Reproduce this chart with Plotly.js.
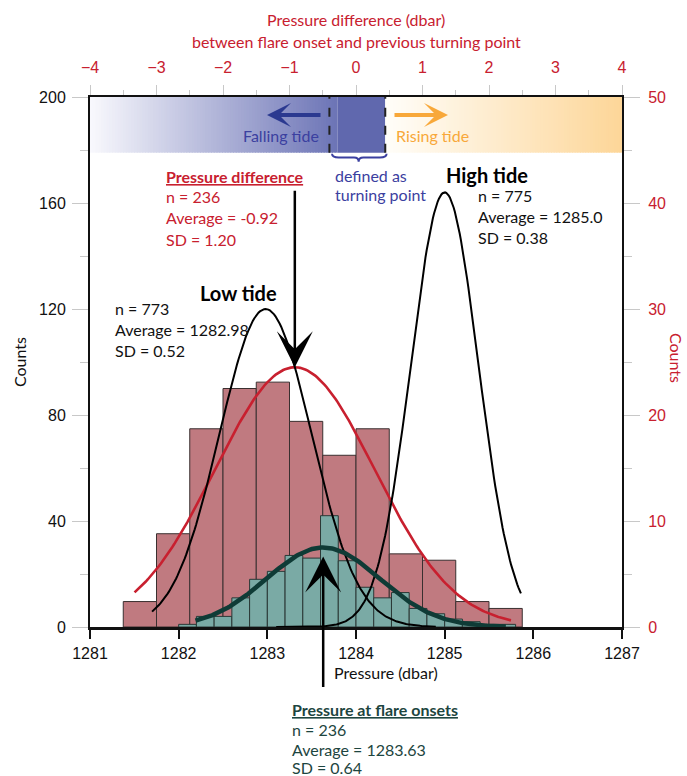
<!DOCTYPE html>
<html>
<head>
<meta charset="utf-8">
<script src="https://cdn.plot.ly/plotly-3.0.1.min.js"></script>
<style>
  html, body { margin: 0; padding: 0; background: #fff; }
  #chart { width: 687px; height: 776px; }
</style>
</head>
<body>
<div id="chart"></div>
<script>
// ---- Pressure difference between flare onset and previous turning point (0.5 dbar bins) ----
const diffBinCenters = [-3.25, -2.75, -2.25, -1.75, -1.25, -0.75, -0.25, 0.25, 0.75, 1.25, 1.75, 2.25];
const diffCounts     = [2.4, 8.8, 18.7, 22.5, 23.1, 19.4, 16.2, 18.7, 6.9, 6.3, 2.4, 1.75];

// ---- Pressure at flare onsets (0.2 dbar bins) ----
const onsetBinCenters = [1282.1, 1282.3, 1282.5, 1282.7, 1282.9, 1283.1, 1283.3, 1283.5, 1283.7, 1283.9,
                         1284.1, 1284.3, 1284.5, 1284.7, 1284.9, 1285.1, 1285.3, 1285.5, 1285.7];
const onsetCounts     = [1, 4, 4, 11, 18, 21, 27, 26, 42, 25, 15, 11, 13, 7, 5, 3, 2, 1, 1];

// ---- Normal fits: stated mean and SD, peak height, drawn extent ----
const diffFit  = { mean: -0.92,   sd: 1.20, peak: 24.5, from: -3.33,   to: 2.33 };
const lowTide  = { mean: 1282.98, sd: 0.52, peak: 120,  from: 1281.70, to: 1284.90 };
const highTide = { mean: 1285.0,  sd: 0.38, peak: 164,  from: 1283.10, to: 1285.86 };
const onsetFit = { mean: 1283.63, sd: 0.64, peak: 30,   from: 1282.19, to: 1285.69 };

// ---- Tick values ----
const diffTicks     = [-4, -3, -2, -1, 0, 1, 2, 3, 4];
const pressureTicks = [1281, 1282, 1283, 1284, 1285, 1286, 1287];
const leftCountTicks  = [0, 40, 80, 120, 160, 200];
const rightCountTicks = [0, 10, 20, 30, 40, 50];

// ---- Styling ----
const RED = '#c8202f';
const BLUE_TXT = '#3b40a0';
const BLUE_ARROW = '#2b3990';
const ORANGE = '#f8a83a';
const TEAL_TXT = '#1d4540';
const TEXT_FONT = 'Lato, "Noto Sans", sans-serif';
const TICK_FONT = '"Liberation Sans", Arial, sans-serif';

const M = { l: 90, r: 65, t: 97, b: 149 };
const W = 687, H = 776;
const PW = W - M.l - M.r, PH = H - M.t - M.b;
const px = x => (x - M.l) / PW;
const py = y => (H - M.b - y) / PH;

function normalCurve(fit, n) {
  const xs = [], ys = [];
  for (let i = 0; i <= n; i++) {
    const x = fit.from + (fit.to - fit.from) * i / n;
    xs.push(x);
    ys.push(fit.peak * Math.exp(-0.5 * Math.pow((x - fit.mean) / fit.sd, 2)));
  }
  return { xs, ys };
}

const diffC = normalCurve(diffFit, 200);
const lowC = normalCurve(lowTide, 200);
const highC = normalCurve(highTide, 200);
const onsetC = normalCurve(onsetFit, 200);

const traces = [
  // red histogram: top axis (x) and right axis (y)
  { type: 'bar', x: diffBinCenters, y: diffCounts, width: 0.5, xaxis: 'x', yaxis: 'y',
    marker: { color: '#c07a80', line: { color: '#3a3030', width: 1 } }, hoverinfo: 'skip' },
  { type: 'scatter', mode: 'lines', x: diffC.xs, y: diffC.ys, xaxis: 'x', yaxis: 'y',
    line: { color: RED, width: 2.6 }, hoverinfo: 'skip' },
  // onset histogram: bottom axis (x2) and left axis (y2)
  { type: 'bar', x: onsetBinCenters, y: onsetCounts, width: 0.2, xaxis: 'x2', yaxis: 'y2',
    marker: { color: '#7aaaa5', line: { color: '#2a3836', width: 1 } }, hoverinfo: 'skip' },
  { type: 'scatter', mode: 'lines', x: lowC.xs, y: lowC.ys, xaxis: 'x2', yaxis: 'y2',
    line: { color: '#000', width: 2 }, hoverinfo: 'skip' },
  { type: 'scatter', mode: 'lines', x: highC.xs, y: highC.ys, xaxis: 'x2', yaxis: 'y2',
    line: { color: '#000', width: 2 }, hoverinfo: 'skip' },
  { type: 'scatter', mode: 'lines', x: onsetC.xs, y: onsetC.ys, xaxis: 'x2', yaxis: 'y2',
    line: { color: '#0f3b36', width: 4.5 }, hoverinfo: 'skip' }
];

// ---- tide band along the top of the plot ----
const BAND_Y0 = 179, BAND_Y1 = 200;
function gradientStrips(x0, x1, c0, c1, n) {
  const out = [];
  const step = (x1 - x0) / n;
  for (let i = 0; i < n; i++) {
    const t = (i + 0.5) / n;
    const c = c0.map((v, k) => Math.round(v + (c1[k] - v) * t));
    out.push({
      type: 'rect', xref: 'x', yref: 'y2', layer: 'below',
      x0: x0 + step * i, x1: x0 + step * (i + 1) + (i < n - 1 ? step * 0.4 : 0),
      y0: BAND_Y0, y1: BAND_Y1,
      fillcolor: `rgb(${c[0]},${c[1]},${c[2]})`, line: { width: 0 }
    });
  }
  return out;
}
const shapes = [].concat(
  gradientStrips(-4, -0.28, [249, 249, 253], [108, 116, 182], 90),
  [{ type: 'rect', xref: 'x', yref: 'y2', layer: 'below', x0: -0.28, x1: 0.44, y0: BAND_Y0, y1: BAND_Y1,
     fillcolor: '#6068ae', line: { width: 0 } }],
  gradientStrips(0.44, 4, [255, 254, 250], [253, 214, 152], 90),
  [
    { type: 'line', xref: 'x', yref: 'y2', x0: -0.4, x1: -0.4, y0: BAND_Y0, y1: BAND_Y1,
      line: { color: '#222', width: 2, dash: 'dash' } },
    { type: 'line', xref: 'x', yref: 'y2', x0: 0.44, x1: 0.44, y0: BAND_Y0, y1: BAND_Y1,
      line: { color: '#222', width: 2, dash: 'dash' } },
    // curly brace under the turning-point window
    { type: 'path', xref: 'x', yref: 'y2',
      path: 'M -0.36,178.6 Q -0.36,177.2 -0.26,177.2 L -0.03,177.2 Q 0.04,177.2 0.04,175.6 ' +
            'Q 0.04,177.2 0.11,177.2 L 0.36,177.2 Q 0.46,177.2 0.46,178.6',
      line: { color: BLUE_TXT, width: 2 } }
  ]
);

function label(text, x, y, color, size, extra) {
  return Object.assign({
    xref: 'paper', yref: 'paper', x: px(x), y: py(y), xanchor: 'left', yanchor: 'middle',
    text: text, showarrow: false, align: 'left',
    font: { family: TEXT_FONT, size: size || 16, color: color || '#111' }
  }, extra || {});
}

const annotations = [
  // top axis title, two lines
  label('Pressure difference (dbar)', 356, 20, RED, 16, { xanchor: 'center' }),
  label('between flare onset and previous turning point', 356, 42, RED, 16, { xanchor: 'center' }),

  // top band labels and arrows
  label('Falling tide', 321, 135, BLUE_TXT, 16, { xanchor: 'right' }),
  label('Rising tide', 394, 135, ORANGE, 16),
  { xref: 'paper', yref: 'paper', x: px(267), y: py(115), ax: 55, ay: 0, text: '', showarrow: true,
    arrowhead: 3, arrowsize: 1.0, arrowwidth: 4, arrowcolor: BLUE_ARROW },
  { xref: 'paper', yref: 'paper', x: px(448), y: py(115), ax: -55, ay: 0, text: '', showarrow: true,
    arrowhead: 3, arrowsize: 1.0, arrowwidth: 4, arrowcolor: ORANGE },
  label('defined as', 333, 175, BLUE_TXT),
  label('turning point', 333, 195, BLUE_TXT),

  // pressure difference stats
  label('<b><u>Pressure difference</u></b>', 164, 176, RED),
  label('n = 236', 164, 197, RED),
  label('Average = -0.92', 164, 218, RED),
  label('SD = 1.20', 164, 239, RED),

  // tide stats
  label('<b>High tide</b>', 444, 175, '#000', 20),
  label('n = 775', 476, 196, '#111'),
  label('Average = 1285.0', 476, 217, '#111'),
  label('SD = 0.38', 476, 237, '#111'),
  label('<b>Low tide</b>', 198, 293, '#000', 20),
  label('n = 773', 113, 308, '#111'),
  label('Average = 1282.98', 113, 329, '#111'),
  label('SD = 0.52', 113, 350, '#111'),

  // arrow from the stats down to the peak of the pressure-difference fit
  { xref: 'x', yref: 'y', x: diffFit.mean, y: diffFit.peak, ax: 0, ay: -178, text: '', showarrow: true,
    arrowhead: 3, arrowsize: 2.4, arrowwidth: 2.5, arrowcolor: '#000' },
  // arrow from below the axis up to the onset fit
  { xref: 'x2', yref: 'y2', x: onsetFit.mean, y: 26.6, ax: 0, ay: 132, text: '', showarrow: true,
    arrowhead: 3, arrowsize: 2.4, arrowwidth: 2.5, arrowcolor: '#000' },

  label('Pressure (dbar)', 332, 672, '#111'),

  // onset stats
  label('<b><u>Pressure at flare onsets</u></b>', 290, 709, TEAL_TXT),
  label('n = 236', 290, 729, TEAL_TXT),
  label('Average = 1283.63', 290, 749, TEAL_TXT),
  label('SD = 0.64', 290, 767, TEAL_TXT),

  // right axis title, reading downward
  label('Counts', 677, 358, RED, 16, { xanchor: 'center', textangle: 90 })
];

const grayTick = '#c8c8c8';
const layout = {
  width: W, height: H, margin: M,
  paper_bgcolor: '#fff', plot_bgcolor: 'rgba(0,0,0,0)',
  showlegend: false, hovermode: false, barmode: 'overlay', bargap: 0,
  xaxis: {
    range: [-4, 4], side: 'top', tickmode: 'array', tickvals: diffTicks,
    ticks: 'outside', ticklen: 10, tickwidth: 1, tickcolor: grayTick,
    minor: { dtick: 0.5, ticks: 'outside', ticklen: 5, tickcolor: grayTick },
    showline: true, linecolor: '#111', linewidth: 2,
    showgrid: false, zeroline: false, ticklabelstandoff: 6,
    tickfont: { family: TICK_FONT, size: 16, color: RED },
    fixedrange: true
  },
  xaxis2: {
    range: [1281, 1287], overlaying: 'x', side: 'bottom', tickmode: 'array', tickvals: pressureTicks,
    ticks: 'outside', ticklen: 9, tickwidth: 2, tickcolor: '#111',
    showline: true, linecolor: '#111', linewidth: 2.5,
    showgrid: false, zeroline: false, ticklabelstandoff: 1,
    tickfont: { family: TICK_FONT, size: 16, color: '#111' },
    fixedrange: true
  },
  yaxis: {
    range: [0, 50], side: 'right', tickmode: 'array', tickvals: rightCountTicks,
    ticks: 'outside', ticklen: 16, tickwidth: 1, tickcolor: grayTick,
    minor: { dtick: 5, ticks: 'outside', ticklen: 8, tickcolor: grayTick },
    showline: true, linecolor: '#111', linewidth: 2,
    showgrid: false, zeroline: false, ticklabelstandoff: 5,
    tickfont: { family: TICK_FONT, size: 16, color: RED },
    fixedrange: true
  },
  yaxis2: {
    range: [0, 200], overlaying: 'y', side: 'left', tickmode: 'array', tickvals: leftCountTicks,
    ticks: 'outside', ticklen: 16, tickwidth: 1, tickcolor: grayTick,
    minor: { dtick: 20, ticks: 'outside', ticklen: 8, tickcolor: grayTick },
    showline: true, linecolor: '#111', linewidth: 2,
    showgrid: false, zeroline: false, ticklabelstandoff: 3,
    tickfont: { family: TICK_FONT, size: 16, color: '#111' },
    title: { text: 'Counts', font: { family: TEXT_FONT, size: 16, color: '#111' }, standoff: 8 },
    fixedrange: true
  },
  shapes: shapes,
  annotations: annotations
};

Plotly.newPlot('chart', traces, layout, { displayModeBar: false, staticPlot: true });
</script>
</body>
</html>
